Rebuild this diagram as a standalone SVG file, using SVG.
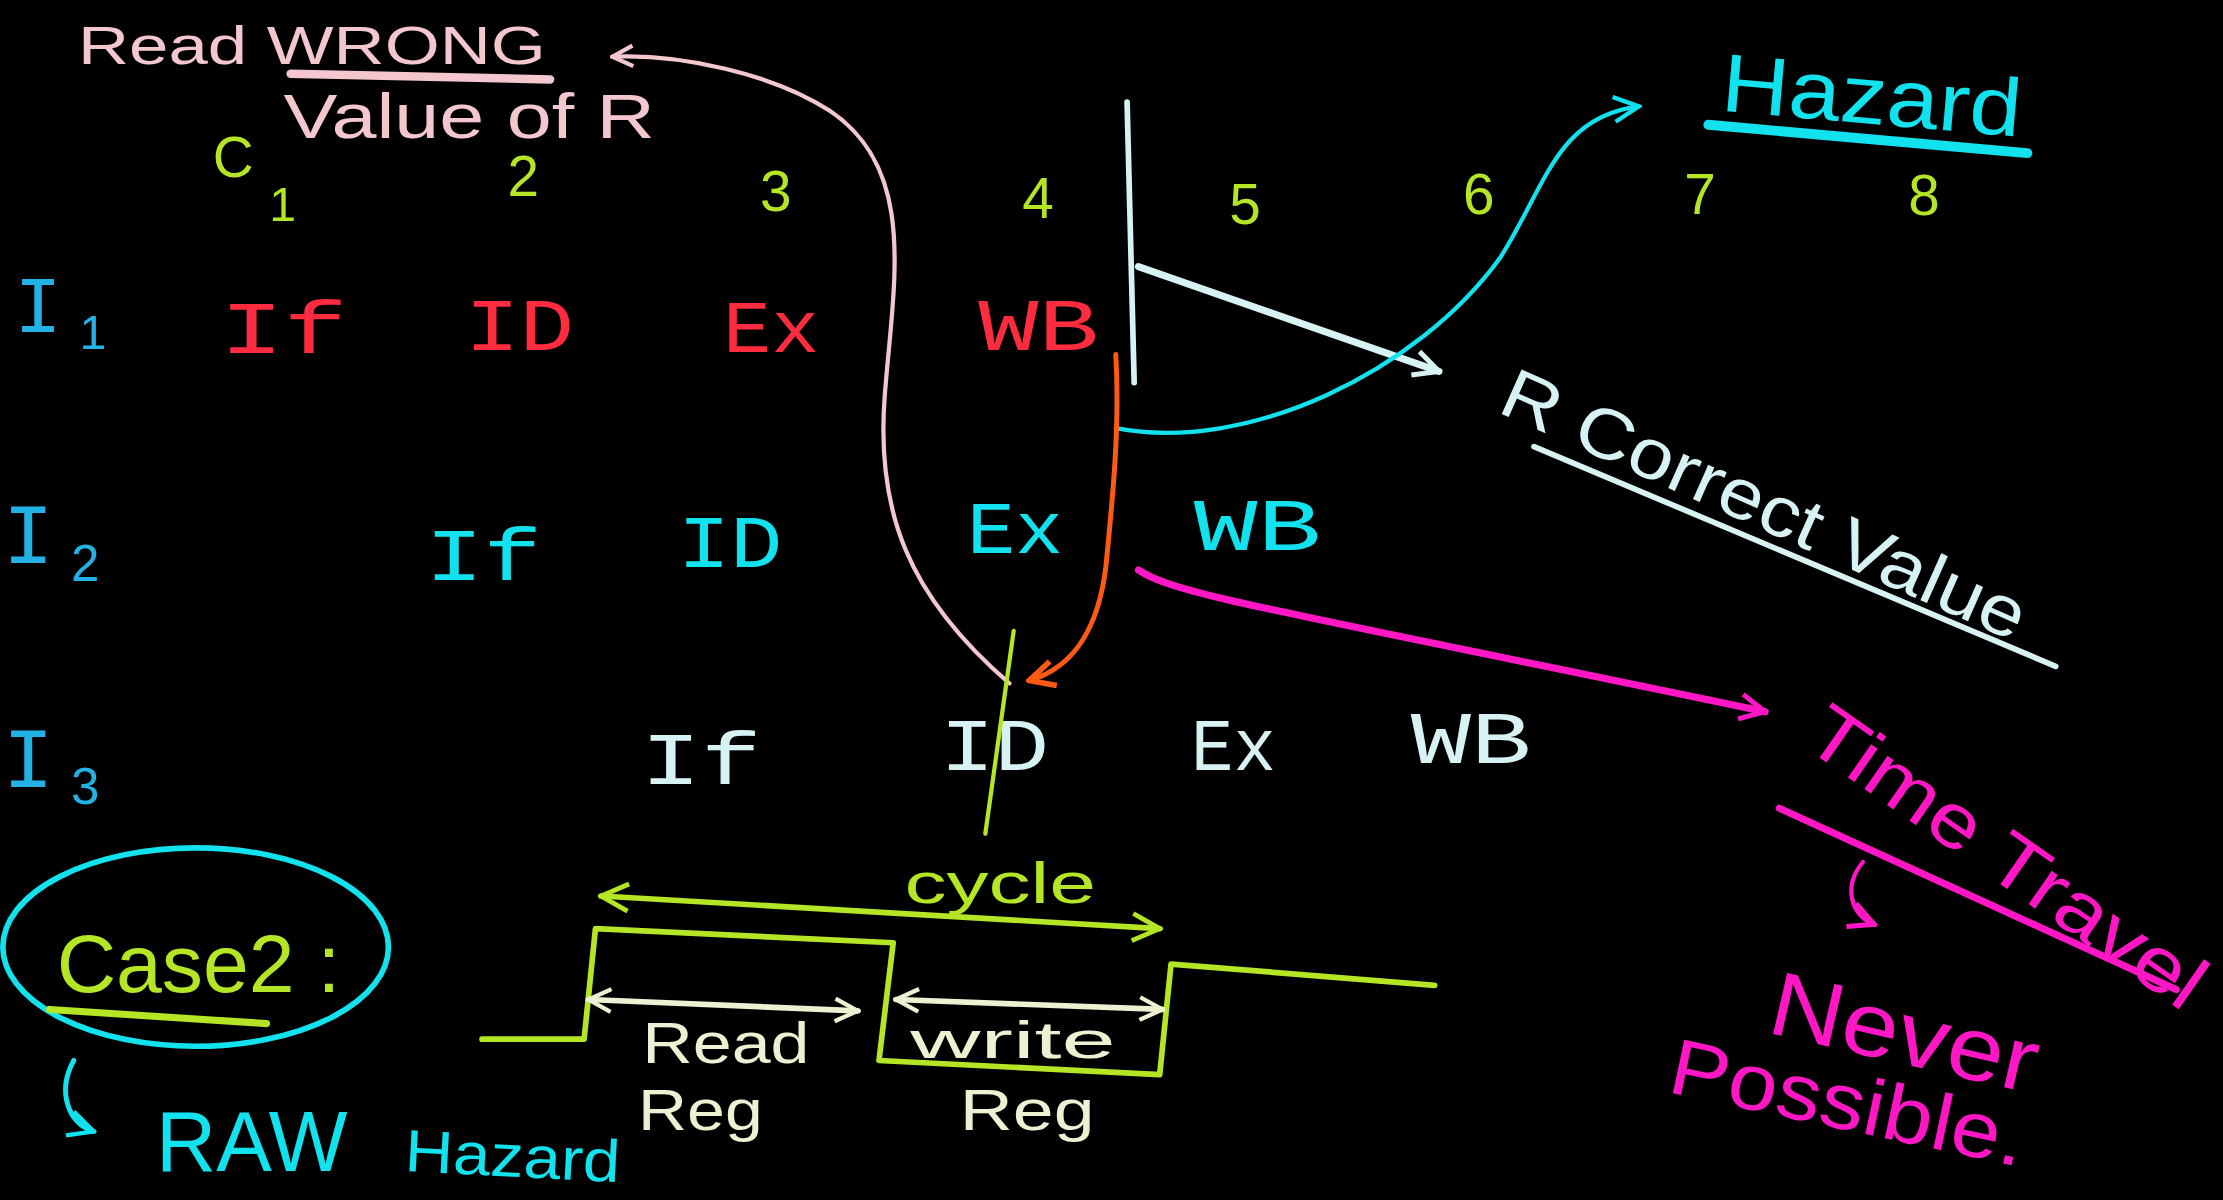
<svg xmlns="http://www.w3.org/2000/svg" width="2223" height="1200" viewBox="0 0 2223 1200">
  <style>
    text { font-family: "Liberation Sans", "DejaVu Sans", sans-serif; }
    .mono { font-family: "Liberation Mono", "DejaVu Sans Mono", monospace; }
    .pink { fill: #f4c7cf; }
    .lime { fill: #b4e625; }
    .cyan { fill: #12e2ee; }
    .blue { fill: #22b2e6; }
    .red { fill: #ff2b3e; }
    .pale { fill: #d6f2f2; }
    .cream { fill: #eef0d2; }
    .mag { fill: #ff16c4; }
    .stage { font-size: 52px; font-family: "Liberation Mono", "DejaVu Sans Mono", monospace; }
    .num { font-size: 40px; }
    .ln { fill: none; stroke-linecap: round; stroke-linejoin: round; }
  </style>
  <defs>
    <marker id="hPink" viewBox="0 0 10 10" refX="9" refY="5" markerWidth="18" markerHeight="18" markerUnits="userSpaceOnUse" orient="auto-start-reverse"><path d="M1,1 L9,5 L1,9" fill="none" stroke="#f4c7cf" stroke-width="1.6"/></marker>
    <marker id="hCyan" viewBox="0 0 10 10" refX="9" refY="5" markerWidth="22" markerHeight="22" markerUnits="userSpaceOnUse" orient="auto-start-reverse"><path d="M1,1 L9,5 L1,9" fill="none" stroke="#12e2ee" stroke-width="1.4"/></marker>
    <marker id="hPale" viewBox="0 0 10 10" refX="9" refY="5" markerWidth="22" markerHeight="22" markerUnits="userSpaceOnUse" orient="auto-start-reverse"><path d="M1,1 L9,5 L1,9" fill="none" stroke="#d6f2f2" stroke-width="1.6"/></marker>
    <marker id="hOrange" viewBox="0 0 10 10" refX="9" refY="5" markerWidth="22" markerHeight="22" markerUnits="userSpaceOnUse" orient="auto-start-reverse"><path d="M1,1 L9,5 L1,9" fill="none" stroke="#ff5a14" stroke-width="1.8"/></marker>
    <marker id="hMag" viewBox="0 0 10 10" refX="9" refY="5" markerWidth="22" markerHeight="22" markerUnits="userSpaceOnUse" orient="auto-start-reverse"><path d="M1,1 L9,5 L1,9" fill="none" stroke="#ff16c4" stroke-width="1.6"/></marker>
    <marker id="hLime" viewBox="0 0 10 10" refX="9" refY="5" markerWidth="24" markerHeight="24" markerUnits="userSpaceOnUse" orient="auto-start-reverse"><path d="M1,1 L9,5 L1,9" fill="none" stroke="#b4e625" stroke-width="1.4"/></marker>
    <marker id="hCream" viewBox="0 0 10 10" refX="9" refY="5" markerWidth="20" markerHeight="20" markerUnits="userSpaceOnUse" orient="auto-start-reverse"><path d="M1,1 L9,5 L1,9" fill="none" stroke="#eef0d2" stroke-width="1.5"/></marker>
  </defs>

  <rect width="2223" height="1200" fill="#000"/>

  <g transform="scale(1.41773)">
    <!-- note: wrong value read -->
    <g id="note-wrong">
      <text class="pink" x="55" y="45" font-size="38" textLength="330" lengthAdjust="spacingAndGlyphs">Read WRONG</text>
      <path class="ln" d="M205,52 L388,56" stroke="#f4c7cf" stroke-width="6"/>
      <text class="pink" x="200" y="97" font-size="44" textLength="262" lengthAdjust="spacingAndGlyphs">Value of R</text>
    </g>

    <!-- cycle numbers -->
    <g id="cycles">
      <text class="lime num" x="150" y="125">C</text>
      <text class="lime" x="190" y="156" font-size="34">1</text>
      <text class="lime num" x="358" y="138">2</text>
      <text class="lime num" x="536" y="149">3</text>
      <text class="lime num" x="721" y="154">4</text>
      <text class="lime num" x="867" y="158">5</text>
      <text class="lime num" x="1032" y="151">6</text>
      <text class="lime num" x="1188" y="151">7</text>
      <text class="lime num" x="1346" y="152">8</text>
    </g>

    <!-- hazard title -->
    <g id="title-hazard">
      <text class="cyan" x="1213" y="78" font-size="58" textLength="212" lengthAdjust="spacingAndGlyphs" transform="rotate(5 1213 78)">Hazard</text>
      <path class="ln" d="M1205,88 L1430,108" stroke="#12e2ee" stroke-width="7"/>
    </g>

    <!-- instruction labels -->
    <g id="label-i1"><text class="blue mono" x="10" y="234" font-size="56">I</text><text class="blue" x="56" y="246" font-size="34">1</text></g>
    <g id="label-i2"><text class="blue mono" x="2" y="397" font-size="60">I</text><text class="blue" x="50" y="410" font-size="36">2</text></g>
    <g id="label-i3"><text class="blue mono" x="2" y="555" font-size="60">I</text><text class="blue" x="50" y="567" font-size="36">3</text></g>

    <!-- I1 stages -->
    <g id="i1-stages">
      <text class="red stage" x="155" y="249" textLength="90" lengthAdjust="spacingAndGlyphs">If</text>
      <text class="red stage" x="328" y="247" textLength="77" lengthAdjust="spacingAndGlyphs">ID</text>
      <text class="red stage" x="510" y="248" textLength="68" lengthAdjust="spacingAndGlyphs">Ex</text>
      <text class="red stage" x="690" y="247" textLength="85" lengthAdjust="spacingAndGlyphs">WB</text>
    </g>

    <!-- I2 stages -->
    <g id="i2-stages">
      <text class="cyan stage" x="300" y="409" textLength="82" lengthAdjust="spacingAndGlyphs">If</text>
      <text class="cyan stage" x="478" y="400" textLength="74" lengthAdjust="spacingAndGlyphs">ID</text>
      <text class="cyan stage" x="682" y="390" textLength="68" lengthAdjust="spacingAndGlyphs">Ex</text>
      <text class="cyan stage" x="842" y="388" textLength="90" lengthAdjust="spacingAndGlyphs">WB</text>
    </g>

    <!-- I3 stages -->
    <g id="i3-stages">
      <text class="pale stage" x="452" y="553" textLength="85" lengthAdjust="spacingAndGlyphs">If</text>
      <text class="pale stage" x="663" y="543" textLength="77" lengthAdjust="spacingAndGlyphs">ID</text>
      <text class="pale stage" x="840" y="543" textLength="60" lengthAdjust="spacingAndGlyphs">Ex</text>
      <text class="pale stage" x="995" y="538" textLength="85" lengthAdjust="spacingAndGlyphs">WB</text>
    </g>

    <!-- correct value note -->
    <g id="note-correct">
      <text class="pale" x="1055" y="290" font-size="50" textLength="400" lengthAdjust="spacingAndGlyphs" transform="rotate(24 1055 290)">R Correct Value</text>
      <path class="ln" d="M1082,315 L1450,470" stroke="#d6f2f2" stroke-width="4"/>
    </g>

    <!-- time travel note -->
    <g id="note-time">
      <text class="mag" x="1270" y="525" font-size="54" textLength="330" lengthAdjust="spacingAndGlyphs" transform="rotate(35 1270 525)">Time Travel</text>
      <path class="ln" d="M1255,570 L1535,698" stroke="#ff16c4" stroke-width="5"/>
    </g>
    <g id="note-never">
      <text class="mag" x="1245" y="728" font-size="64" textLength="192" lengthAdjust="spacingAndGlyphs" transform="rotate(13 1245 728)">Never</text>
      <text class="mag" x="1175" y="770" font-size="56" textLength="255" lengthAdjust="spacingAndGlyphs" transform="rotate(12 1175 770)">Possible.</text>
    </g>

    <!-- case label -->
    <g id="case2">
      <ellipse cx="138" cy="668" rx="136" ry="70" fill="none" stroke="#12e2ee" stroke-width="4"/>
      <text class="lime" x="40" y="700" font-size="58" textLength="200" lengthAdjust="spacingAndGlyphs">Case2 :</text>
      <path class="ln" d="M35,712 L188,722" stroke="#b4e625" stroke-width="5"/>
    </g>
    <g id="raw-hazard">
      <text class="cyan" x="110" y="826" font-size="60" textLength="135" lengthAdjust="spacingAndGlyphs">RAW</text>
      <text class="cyan" x="285" y="826" font-size="42" textLength="152" lengthAdjust="spacingAndGlyphs" transform="rotate(3 285 826)">Hazard</text>
    </g>

    <!-- clock waveform -->
    <g id="clock">
      <path class="ln" d="M340,733 L412,733 L420,655 L630,665 L620,748 L818,758 L826,680 L1012,695" stroke="#b4e625" stroke-width="4"/>
      <text class="lime" x="638" y="637" font-size="40" textLength="135" lengthAdjust="spacingAndGlyphs">cycle</text>
      <text class="cream" x="453" y="750" font-size="40" textLength="118" lengthAdjust="spacingAndGlyphs">Read</text>
      <text class="cream" x="450" y="797" font-size="40" textLength="88" lengthAdjust="spacingAndGlyphs">Reg</text>
      <text class="cream" x="642" y="746" font-size="36" textLength="145" lengthAdjust="spacingAndGlyphs">write</text>
      <text class="cream" x="677" y="797" font-size="40" textLength="95" lengthAdjust="spacingAndGlyphs">Reg</text>
    </g>

    <!-- connectors -->
    <g id="connectors">
      <path class="ln" d="M712,482 C640,420 618,360 624,280 C630,200 648,120 585,78 C545,52 480,38 432,40" stroke="#f4c7cf" stroke-width="3" marker-end="url(#hPink)"/>
      <path class="ln" d="M795,72 L800,270" stroke="#d6f2f2" stroke-width="4"/>
      <path class="ln" d="M803,188 L1015,262" stroke="#d6f2f2" stroke-width="5" marker-end="url(#hPale)"/>
      <path class="ln" d="M787,302 C880,320 1000,262 1058,182 C1090,132 1098,82 1156,75" stroke="#12e2ee" stroke-width="3" marker-end="url(#hCyan)"/>
      <path class="ln" d="M787,250 C790,300 785,350 780,400 C775,440 760,470 726,480" stroke="#ff5a14" stroke-width="3.5" marker-end="url(#hOrange)"/>
      <path class="ln" d="M715,445 L695,588" stroke="#b4e625" stroke-width="3"/>
      <path class="ln" d="M803,402 C830,420 900,430 1245,502" stroke="#ff16c4" stroke-width="5" marker-end="url(#hMag)"/>
      <path class="ln" d="M1314,608 C1300,625 1305,645 1322,652" stroke="#ff16c4" stroke-width="3" marker-end="url(#hMag)"/>
      <path class="ln" d="M52,748 C40,770 48,792 66,798" stroke="#12e2ee" stroke-width="3.5" marker-end="url(#hCyan)"/>
      <path class="ln" d="M424,632 L818,655" stroke="#b4e625" stroke-width="4" marker-start="url(#hLime)" marker-end="url(#hLime)"/>
      <path class="ln" d="M415,705 L605,713" stroke="#eef0d2" stroke-width="4" marker-start="url(#hCream)" marker-end="url(#hCream)"/>
      <path class="ln" d="M632,705 L820,712" stroke="#eef0d2" stroke-width="4" marker-start="url(#hCream)" marker-end="url(#hCream)"/>
    </g>
  </g>
</svg>
